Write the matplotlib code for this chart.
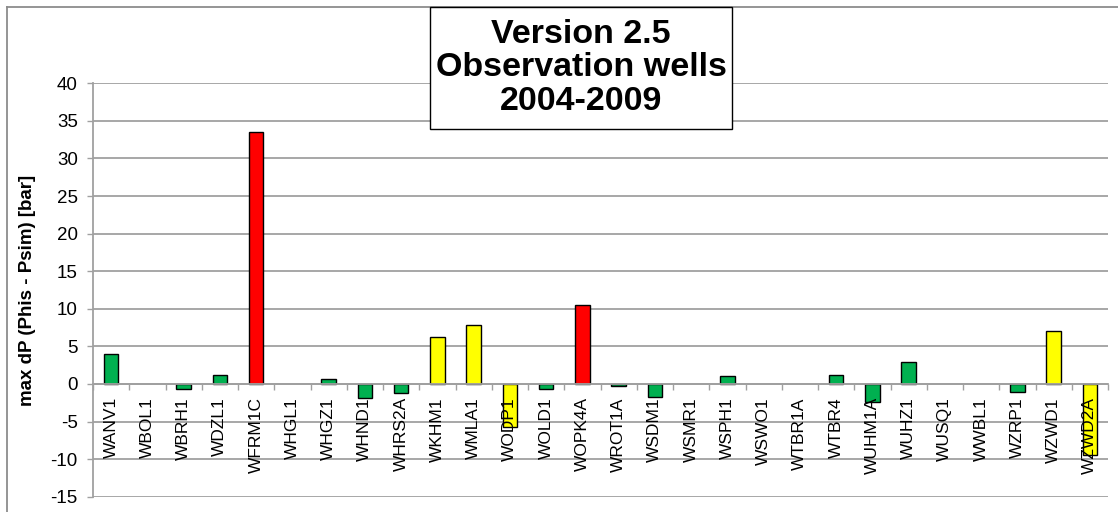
import matplotlib
matplotlib.use("Agg")
import matplotlib.pyplot as plt
from matplotlib.patches import Rectangle
from matplotlib.lines import Line2D
import numpy as np

plt.rcParams['font.family'] = ['Liberation Sans', 'DejaVu Sans']
plt.rcParams['axes.unicode_minus'] = False

wells = ["WANV1", "WBOL1", "WBRH1", "WDZL1", "WFRM1C", "WHGL1", "WHGZ1",
         "WHND1", "WHRS2A", "WKHM1", "WMLA1", "WODP1", "WOLD1", "WOPK4A",
         "WROT1A", "WSDM1", "WSMR1", "WSPH1", "WSWO1", "WTBR1A", "WTBR4",
         "WUHM1A", "WUHZ1", "WUSQ1", "WWBL1", "WZRP1", "WZWD1", "WZWD2A"]
max_dp = [4.0, 0.0, -0.7, 1.15, 33.5, 0.0, 0.6,
          -1.9, -1.25, 6.2, 7.9, -5.7, -0.7, 10.5,
          -0.25, -1.7, 0.0, 1.0, 0.0, 0.0, 1.15,
          -2.4, 2.9, 0.0, 0.0, -1.1, 7.0, -9.5]
status = ["ok", "ok", "ok", "ok", "bad", "ok", "ok",
          "ok", "ok", "warn", "warn", "warn", "ok", "bad",
          "ok", "ok", "ok", "ok", "ok", "ok", "ok",
          "ok", "ok", "ok", "ok", "ok", "warn", "warn"]
status_colors = {"ok": "#00B050", "warn": "#FFFF00", "bad": "#FF0000"}
y_ticks = list(range(-15, 45, 5))

W, H = 1118, 512
fig = plt.figure(figsize=(W / 100, H / 100), dpi=100)
ax = fig.add_axes([93 / W, 1 - 496.7 / H, (1108 - 93) / W, (496.7 - 83.3) / H])

grid_col = "#a0a0a0"
x = np.arange(len(wells))
colors = [status_colors[s] for s in status]
edge_widths = [1.0 if v != 0 else 0.0 for v in max_dp]
ax.bar(x, max_dp, width=0.4, color=colors, edgecolor="black",
       linewidth=edge_widths, zorder=1)

for yt in y_ticks:
    ax.axhline(yt, color=grid_col, lw=1.3, zorder=0.5)

ax.set_xlim(-0.5, len(wells) - 0.5)
ax.set_ylim(-15, 40)
ax.set_yticks(y_ticks)
ax.tick_params(axis="y", direction="out", length=4, width=1.0, color=grid_col,
               labelsize=13.5, pad=7)

ax.spines["top"].set_visible(False)
ax.spines["right"].set_visible(False)
ax.spines["left"].set_color(grid_col)
ax.spines["left"].set_linewidth(1.3)
ax.spines["bottom"].set_position(("data", 0))
ax.spines["bottom"].set_color(grid_col)
ax.spines["bottom"].set_linewidth(1.3)

ax.set_xticks(x)
ax.set_xticklabels(wells, rotation=90, va="top", ha="center")
ax.set_xticks(np.arange(len(wells) + 1) - 0.5, minor=True)
ax.tick_params(axis="x", which="major", length=0, labelsize=12.5, pad=9.5)
ax.tick_params(axis="x", which="minor", direction="out", length=4, width=1.0,
               color=grid_col)
ax.set_axisbelow(False)
ax.xaxis.set_zorder(3)

ax.set_ylabel("max dP (Phis - Psim) [bar]", fontsize=13.5, fontweight="bold")
ax.yaxis.set_label_coords(-57 / (1108 - 93), (496.7 - 290) / (496.7 - 83.3))

# outer chart-area frame
fig.add_artist(Line2D([7 / W, 7 / W], [1 - 7 / H, 0], color="#8c8c8c", lw=1.3,
                      transform=fig.transFigure))
fig.add_artist(Line2D([7 / W, 1], [1 - 7 / H, 1 - 7 / H], color="#8c8c8c", lw=1.3,
                      transform=fig.transFigure))

# title box
fig.add_artist(Rectangle((430 / W, 1 - 129 / H), (732 - 430) / W, (129 - 7) / H,
                         transform=fig.transFigure, facecolor="white",
                         edgecolor="black", lw=1.0, zorder=5))
fig.text(581 / W, 1 - 68 / H, "Version 2.5\nObservation wells\n2004-2009",
         ha="center", va="center", fontsize=24.5, fontweight="bold",
         linespacing=1.12, zorder=6)

fig.savefig("out.png", dpi=100)
